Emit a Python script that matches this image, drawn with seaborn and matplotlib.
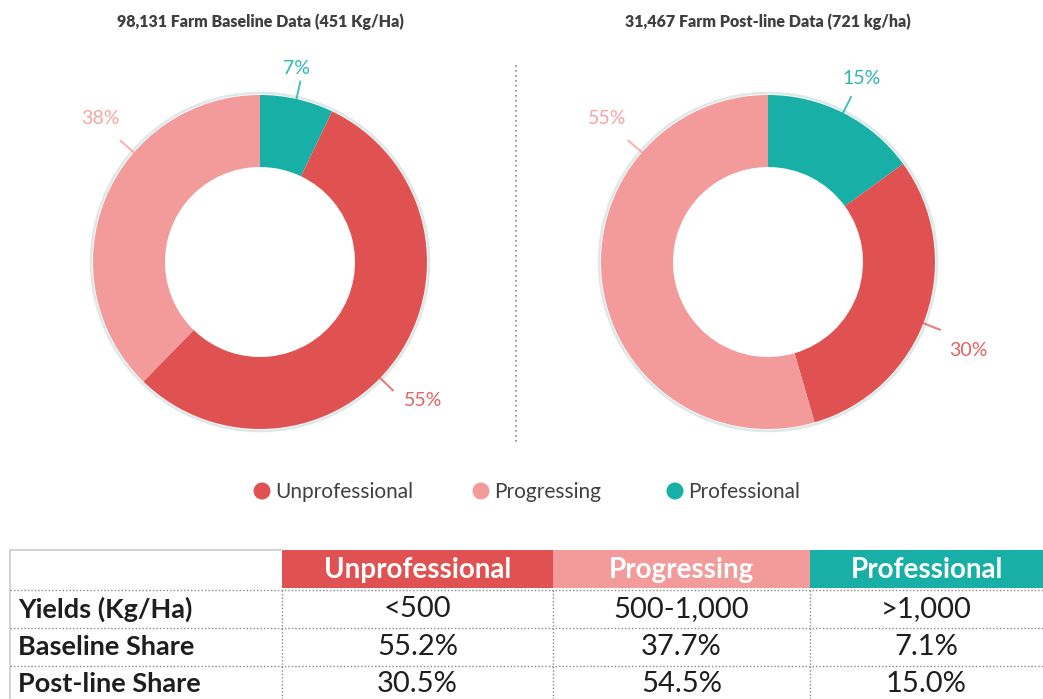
import numpy as np
import matplotlib
matplotlib.use("Agg")
import matplotlib.pyplot as plt
import seaborn as sns
from matplotlib.patches import Rectangle, Circle

# --- data ---
categories = ["Unprofessional", "Progressing", "Professional"]
baseline_share = [55.2, 37.7, 7.1]
postline_share = [30.5, 54.5, 15.0]
baseline_pct = ["55%", "38%", "7%"]
postline_pct = ["30%", "55%", "15%"]
yields = ["<500", "500-1,000", ">1,000"]
row_names = ["Yields (Kg/Ha)", "Baseline Share", "Post-line Share"]
titles = ["98,131 Farm Baseline Data (451 Kg/Ha)", "31,467 Farm Post-line Data (721 kg/ha)"]

sns.set_theme(style="white")
plt.rcParams['font.family'] = ['Lato', 'DejaVu Sans']
colors = sns.color_palette(["#E05252", "#F29B9A", "#17AFA6"])
text_gray = "#404040"

W, H = 1043, 699
fig = plt.figure(figsize=(W / 100, H / 100), dpi=100)
over = fig.add_axes([0, 0, 1, 1])
over.set_xlim(0, W)
over.set_ylim(H, 0)
over.axis('off')

# donut layout (pixels)
R, ring = 167, 72
centers = [(260, 262), (768, 262)]
# leader angle (deg clockwise from top) and label offset per category
leaders = [[134, 311, 12.6], [111.5, 311, 26.7]]
label_off = [[(163, -138), (-160, 144), (36, 194)], [(200, -88), (-161, 144), (94, 184)]]
order = [2, 0, 1]  # clockwise from top: Professional, Unprofessional, Progressing

half = 240
for k, (shares, pcts) in enumerate([(baseline_share, baseline_pct), (postline_share, postline_pct)]):
    cx, cy = centers[k]
    ax = fig.add_axes([(cx - half) / W, 1 - (cy + half) / H, 2 * half / W, 2 * half / H])
    ax.add_patch(Circle((0, 0), R + 2, fill=False, ec="#dde8e8", lw=1.8))
    ax.pie([shares[i] for i in order], colors=[colors[i] for i in order], radius=R,
           startangle=90, counterclock=False, wedgeprops=dict(width=ring, lw=0))
    ax.set_xlim(-half, half)
    ax.set_ylim(-half, half)
    ax.axis('off')
    for i in range(3):
        a = np.deg2rad(leaders[k][i])
        ax.plot([R * np.sin(a), (R + 18) * np.sin(a)], [R * np.cos(a), (R + 18) * np.cos(a)],
                color=colors[i], lw=1.5, alpha=0.75)
        dx, dy = label_off[k][i]
        ax.text(dx, dy, pcts[i], ha='center', va='center', fontsize=14, color=colors[i], alpha=0.9)
    over.text(cx, 22, titles[k], ha='center', va='center', fontsize=11.5, fontweight='heavy', color=text_gray)

# divider
over.plot([516, 516], [65, 445], color="#888888", lw=1.2, ls=(0, (1, 2)))

# legend
leg_x = [262, 481, 675]
for i, c in enumerate(categories):
    over.scatter(leg_x[i], 491, s=150, color=colors[i], edgecolors='none')
    over.text(leg_x[i] + 13, 492, c, ha='left', va='center', fontsize=15, color=text_gray)

# table
col_x = [10, 282, 553, 810, W + 5]
row_y = [550, 590, 628, 666, 704]
for i, c in enumerate(categories):
    over.add_patch(Rectangle((col_x[i + 1], 550), col_x[i + 2] - col_x[i + 1], 38, color=colors[i], lw=0))
    over.text((col_x[i + 1] + min(col_x[i + 2], W)) / 2, 570, c, ha='center', va='center',
              fontsize=20, fontweight='bold', color='white')
over.plot([10, 282], [550, 550], color="#cccccc", lw=1.2)
over.plot([10, 10], [550, H], color="#cccccc", lw=1.2)
for y in row_y[1:4]:
    over.plot([10, W], [y, y], color="#888888", lw=1, ls=(0, (1, 1.5)))
for x in col_x[1:4]:
    over.plot([x, x], [590, H], color="#888888", lw=1, ls=(0, (1, 1.5)))

rows = [yields, [f"{v:.1f}%" for v in baseline_share], [f"{v:.1f}%" for v in postline_share]]
for r, name in enumerate(row_names):
    yc = (row_y[r + 1] + row_y[r + 2]) / 2
    if r == 2:
        yc = 684
    over.text(18, yc, name, ha='left', va='center', fontsize=19.5, fontweight='bold', color="#1e1e1e")
    for i in range(3):
        over.text((col_x[i + 1] + min(col_x[i + 2], W)) / 2, yc, rows[r][i], ha='center', va='center',
                  fontsize=21, color="#1e1e1e")

fig.savefig("out.png", dpi=100)
